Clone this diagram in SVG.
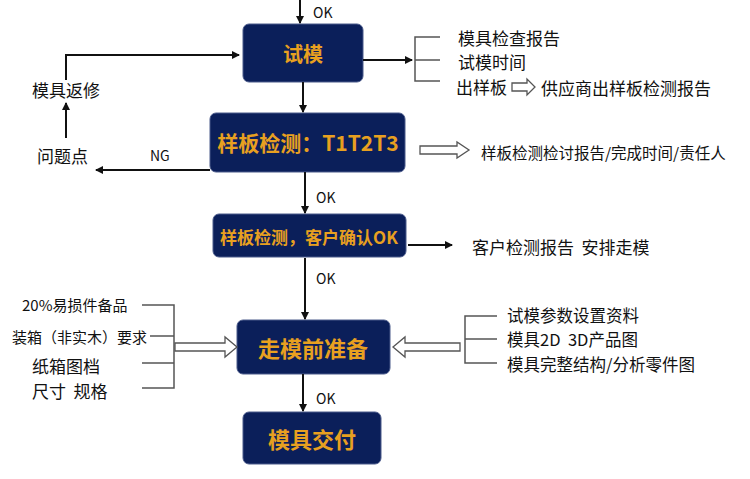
<svg xmlns="http://www.w3.org/2000/svg" width="750" height="479" viewBox="0 0 750 479">
<defs>
<marker id="ah" markerWidth="8" markerHeight="8" refX="7" refY="4" orient="auto" markerUnits="userSpaceOnUse"><path d="M0,0 L8,4 L0,8 Z" fill="#111"/></marker>
<style>
.box{fill:#0b1f5a;stroke:#4a5a8a;stroke-width:1}
.bt{fill:#e8a020;font-family:"Noto Sans CJK SC",sans-serif;font-weight:bold;text-anchor:middle;dominant-baseline:central}
.t{fill:#111;font-family:"Noto Sans CJK SC",sans-serif;font-size:17px;dominant-baseline:central;white-space:pre}
.ln{stroke:#111;stroke-width:2;fill:none}
.br{stroke:#555;stroke-width:1.5;fill:none}
.ha{fill:#fff;stroke:#555;stroke-width:1.3}
</style>
</defs>
<rect width="750" height="479" fill="#fff"/>
<g id="n1"><rect class="box" x="243" y="24" width="120" height="58" rx="6"/><text class="bt" x="303" y="53" font-size="20">试模</text></g>
<g id="n2"><rect class="box" x="210" y="113" width="195" height="59" rx="6"/><text class="bt" x="308" y="142" font-size="21">样板检测：T1T2T3</text></g>
<g id="n3"><rect class="box" x="213" y="214" width="193" height="43" rx="6"/><text class="bt" x="309" y="236" font-size="17">样板检测，客户确认OK</text></g>
<g id="n4"><rect class="box" x="237" y="320" width="153" height="54" rx="6"/><text class="bt" x="313" y="347" font-size="22">走模前准备</text></g>
<g id="n5"><rect class="box" x="243" y="412" width="138" height="52" rx="6"/><text class="bt" x="312" y="438" font-size="22">模具交付</text></g>
<g id="connectors">
<path class="ln" d="M300,0 V23" marker-end="url(#ah)"/>
<path class="ln" d="M303,82 V112" marker-end="url(#ah)"/>
<path class="ln" d="M305,172 V213" marker-end="url(#ah)"/>
<path class="ln" d="M305,258 V319" marker-end="url(#ah)"/>
<path class="ln" d="M303,374 V411" marker-end="url(#ah)"/>
<path class="ln" d="M363,60 H412" marker-end="url(#ah)"/>
<path class="br" d="M440,37 H415 V81 H440 M415,60 H440"/>
<path class="ln" d="M66,80 V55 H239" marker-end="url(#ah)"/>
<path class="ln" d="M66,138 V103" marker-end="url(#ah)"/>
<path class="ln" d="M210,170 H96" marker-end="url(#ah)"/>
<path class="ln" d="M408,245 H452" marker-end="url(#ah)"/>
<path class="ha" d="M512,83 H527 V79 L535,87 L527,95 V91 H512 Z"/>
<path class="ha" d="M420,146 H457 V142 L469,150 L457,158 V154 H420 Z"/>
<path class="br" d="M142,305 H174 V388 H142 M150,336 H174 M142,363 H174"/>
<path class="ha" d="M175,343 H225 V337 L237,347 L225,357 V351 H175 Z"/>
<path class="br" d="M497,316 H465 V363 H497 M465,339 H497"/>
<path class="ha" d="M460,343 H405 V337 L393,347 L405,357 V351 H460 Z"/>
</g>
<g id="labels">
<text class="t" x="313" y="12" style="font-size:14px">OK</text>
<text class="t" x="316" y="197" style="font-size:14px">OK</text>
<text class="t" x="316" y="278" style="font-size:14px">OK</text>
<text class="t" x="316" y="398" style="font-size:14px">OK</text>
<text class="t" x="150" y="155" style="font-size:14px">NG</text>
<text class="t" x="458" y="37">模具检查报告</text>
<text class="t" x="458" y="61">试模时间</text>
<text class="t" x="456" y="86">出样板</text>
<text class="t" x="541" y="87">供应商出样板检测报告</text>
<text class="t" x="32" y="89">模具返修</text>
<text class="t" x="37" y="155">问题点</text>
<text class="t" x="481" y="152" style="font-size:15.5px">样板检测检讨报告/完成时间/责任人</text>
<text class="t" x="472" y="246">客户检测报告  安排走模</text>
<text class="t" x="22" y="304" style="font-size:15px">20%易损件备品</text>
<text class="t" x="12" y="336" style="font-size:15px">装箱（非实木）要求</text>
<text class="t" x="32" y="365">纸箱图档</text>
<text class="t" x="32" y="390">尺寸  规格</text>
<text class="t" x="507" y="315" style="font-size:16.5px">试模参数设置资料</text>
<text class="t" x="507" y="339" style="font-size:16.5px">模具2D  3D产品图</text>
<text class="t" x="507" y="364" style="font-size:16.5px">模具完整结构/分析零件图</text>
</g>
</svg>
